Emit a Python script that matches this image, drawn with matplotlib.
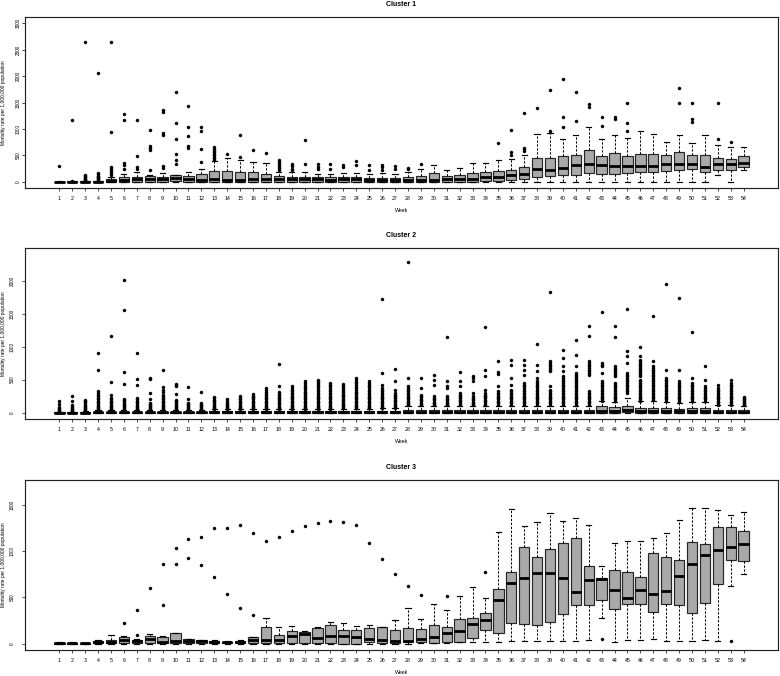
import matplotlib
matplotlib.use("Agg")
import matplotlib.pyplot as plt

plt.rcParams['font.family'] = ['Liberation Sans', 'DejaVu Sans']

weeks = list(range(1, 55))

# ---------------- Cluster 1 ----------------
c1_q1 = [0, 0, 0, 0, 0, 0, 0, 0, 0, 6, 0, 0, 0, 0, 0, 0, 0, 0, 0, 0, 0, 0, 0, 0, 0, 0, 0,
         0, 0, 0, 0, 0, 0, 19, 13, 26, 51, 82, 114, 133, 127, 158, 139, 139, 165, 190, 190,
         196, 221, 234, 190, 228, 215, 284]
c1_med = [0, 0, 0, 0, 13, 32, 51, 51, 51, 69, 51, 38, 45, 38, 38, 44, 51, 45, 44, 44, 42, 38,
          42, 42, 38, 28, 28, 26, 26, 38, 45, 57, 45, 82, 89, 120, 146, 247, 215, 259, 322, 329,
          316, 303, 291, 297, 303, 335, 335, 335, 284, 335, 329, 360]
c1_q3 = [3, 4, 6, 8, 45, 82, 95, 101, 95, 127, 108, 152, 196, 196, 190, 183, 145, 104, 88, 88,
         82, 82, 85, 85, 76, 65, 65, 89, 108, 165, 108, 127, 158, 184, 202, 221, 272, 442, 455,
         480, 499, 594, 493, 537, 493, 524, 518, 505, 569, 505, 512, 449, 430, 487]
c1_lo = [0, 0, 0, 0, 0, 0, 0, 0, 0, 0, 0, 0, 0, 0, 0, 0, 0, 0, 0, 0, 0, 0, 0, 0, 0, 0, 0,
         0, 0, 0, 0, 0, 0, 0, 0, 0, 0, 0, 0, 0, 0, 0, 0, 0, 0, 0, 0, 0, 0, 0, 0, 120, 0, 215]
c1_hi = [8, 10, 15, 20, 90, 139, 177, 127, 165, 133, 190, 234, 398, 455, 404, 379, 348, 190,
         184, 184, 152, 152, 171, 171, 146, 158, 146, 177, 240, 310, 221, 259, 360, 360, 417,
         436, 499, 903, 916, 802, 891, 1036, 802, 878, 834, 954, 897, 758, 878, 726, 884, 701,
         651, 651]
c1_out = [
    [297], [1175, 16], [2646, 120, 100, 85, 70, 55, 40, 28],
    [2058, 158, 140, 114, 95, 82, 65, 50, 35], [2646, 941, 270, 240, 205, 160, 125],
    [1282, 1175, 360, 322, 247], [1175, 480, 285, 246], [979, 682, 644, 607, 215],
    [1364, 1314, 916, 878, 303, 259], [1699, 1112, 815, 524, 417, 335],
    [1427, 1042, 865, 682, 644], [1036, 960, 613, 367],
    [651, 620, 590, 560, 530, 500, 470, 440, 410], [524], [878, 474], [594], [537],
    [411, 373, 335, 297, 259, 230], [335, 297, 247, 221], [790, 329], [329, 284, 234],
    [335, 247], [322, 284], [385, 322], [310, 221], [320, 280, 225], [291, 234],
    [266, 240], [335], [], [], [], [], [], [726], [979, 569, 499], [1295, 644, 613, 587],
    [1396], [1736, 966], [1938, 1231, 1042], [1699, 1143], [1471, 1421], [1231, 1055],
    [1231, 1194], [1484, 1105, 960], [], [], [], [1768, 1484], [1484, 1181, 1130], [],
    [1484, 802], [745], []]

# ---------------- Cluster 2 ----------------
c2_q1 = [0, 0, 0, 0, 0, 0, 0, 0, 0, 0, 0, 0, 0, 0, 0, 0, 0, 0, 0, 0, 0, 0, 0, 0, 0, 0, 0,
         0, 0, 0, 0, 0, 0, 0, 0, 0, 0, 0, 0, 0, 0, 0, 2, 2, 3, 2, 2, 2, 2, 2, 2, 0, 0, 0]
c2_med = [0, 0, 0, 3, 3, 3, 3, 3, 3, 3, 3, 3, 5, 5, 5, 5, 5, 5, 5, 5, 5, 5, 5, 5, 5, 8, 8,
          12, 12, 12, 12, 12, 12, 12, 12, 12, 12, 12, 12, 12, 12, 12, 30, 25, 35, 20, 22, 22,
          18, 20, 20, 12, 12, 10]
c2_q3 = [5, 5, 8, 16, 16, 16, 16, 16, 16, 16, 16, 16, 22, 22, 22, 22, 22, 22, 22, 22, 22, 22,
         22, 22, 22, 30, 30, 45, 45, 45, 45, 45, 45, 45, 45, 45, 45, 45, 45, 45, 45, 45, 95, 80,
         106, 68, 70, 70, 60, 65, 65, 45, 45, 40]
c2_lo = [0, 0, 0, 0, 0, 0, 0, 0, 0, 0, 0, 0, 0, 0, 0, 0, 0, 0, 0, 0, 0, 0, 0, 0, 0, 0, 0,
         0, 0, 0, 0, 0, 0, 0, 0, 0, 0, 0, 0, 0, 0, 0, 0, 0, 0, 0, 0, 0, 0, 0, 0, 0, 0, 0]
c2_hi = [12, 12, 20, 40, 40, 40, 40, 40, 40, 40, 40, 40, 55, 55, 55, 55, 55, 55, 55, 55, 55,
         55, 55, 55, 55, 70, 70, 105, 105, 105, 105, 105, 105, 105, 105, 105, 105, 105, 105,
         105, 105, 105, 170, 160, 222, 170, 181, 165, 150, 160, 160, 110, 110, 100]
c2_out = [
    [182, 136, 86, 70, 55, 40, 30, 22],
    [257, 177, 110, 90, 70, 55, 40, 30, 22],
    [197, 180, 160, 140, 120, 100, 85, 70, 55, 42, 32],
    [904, 646, 328, 298, 275, 250, 225, 200, 180, 160, 140, 120, 100, 85, 70, 55, 45],
    [1161, 464, 267, 222, 200, 180, 160, 140, 120, 100, 85, 70, 55, 45],
    [2010, 1550, 621, 434, 207, 190, 170, 150, 130, 110, 95, 80, 65, 50],
    [904, 515, 414, 222, 200, 180, 160, 140, 120, 100, 85, 70, 55, 45],
    [530, 510, 298, 212, 146, 130, 115, 100, 85, 70, 58, 46],
    [646, 389, 348, 318, 272, 250, 225, 200, 180, 160, 140, 120, 100, 85, 70, 58, 46],
    [434, 415, 399, 287, 197, 175, 155, 135, 115, 100, 85, 70, 58, 46],
    [389, 212, 146, 130, 115, 100, 85, 70, 58, 46],
    [313, 146, 130, 115, 100, 85, 70, 58, 46],
    [237, 215, 195, 175, 155, 135, 115, 100, 85, 72, 62],
    [212, 171, 150, 130, 115, 100, 85, 72, 62],
    [257, 222, 200, 180, 160, 140, 120, 100, 85, 72, 62],
    [282, 260, 240, 220, 200, 180, 160, 140, 120, 100, 85, 72, 62],
    [373, 338, 308, 285, 262, 240, 220, 200, 180, 160, 140, 120, 100, 85, 72, 62],
    [732, 399, 318, 287, 265, 245, 225, 205, 185, 165, 145, 125, 105, 88, 72, 62],
    [409, 373, 348, 325, 300, 280, 260, 240, 220, 200, 180, 160, 140, 120, 100, 85, 72, 62],
    [474, 445, 420, 395, 370, 345, 320, 300, 280, 260, 240, 220, 200, 180, 160, 140, 120,
     100, 85, 72, 62],
    [500, 475, 450, 420, 399, 375, 350, 325, 300, 280, 260, 240, 220, 200, 180, 160, 140,
     120, 100, 85, 72, 62],
    [449, 425, 400, 375, 350, 325, 300, 280, 260, 240, 220, 200, 180, 160, 140, 120, 100,
     85, 72, 62],
    [434, 410, 385, 360, 335, 310, 290, 270, 250, 230, 210, 190, 170, 150, 130, 110, 95, 80,
     68],
    [520, 495, 470, 445, 420, 395, 370, 345, 320, 300, 280, 260, 240, 220, 200, 180, 160,
     140, 120, 100, 85, 68],
    [474, 450, 425, 400, 375, 350, 325, 300, 280, 260, 240, 220, 200, 180, 160, 140, 120,
     100, 85, 68],
    [1722, 595, 424, 373, 350, 325, 300, 280, 260, 240, 220, 200, 180, 160, 140, 120, 100,
     85, 76],
    [656, 474, 338, 298, 275, 255, 235, 215, 195, 175, 155, 135, 115, 100, 85, 76],
    [2288, 525, 399, 374, 350, 325, 300, 280, 260, 240, 220, 200, 180, 160, 140, 125, 112],
    [525, 369, 273, 250, 230, 210, 190, 170, 150, 130, 115],
    [576, 500, 424, 248, 225, 205, 185, 165, 145, 125, 112],
    [1151, 475, 409, 374, 248, 225, 205, 185, 165, 145, 125, 112],
    [611, 475, 399, 298, 275, 255, 235, 215, 195, 175, 155, 135, 115],
    [561, 525, 475, 298, 248, 225, 205, 185, 165, 145, 125, 112],
    [1293, 652, 550, 338, 298, 275, 255, 235, 215, 195, 175, 155, 135, 115],
    [778, 616, 591, 399, 323, 300, 280, 260, 240, 220, 200, 180, 160, 140, 120],
    [793, 717, 525, 414, 348, 325, 300, 280, 260, 240, 220, 200, 180, 160, 140, 120],
    [793, 717, 641, 576, 450, 425, 400, 375, 350, 325, 300, 280, 260, 240, 220, 200, 180,
     160, 140, 120],
    [1045, 717, 626, 525, 475, 450, 425, 400, 375, 350, 325, 300, 280, 260, 240, 220, 200,
     180, 160, 140, 120],
    [1833, 778, 753, 728, 702, 677, 651, 626, 399, 348, 325, 300, 280, 260, 240, 220, 200,
     180, 160, 140, 120],
    [955, 828, 702, 626, 550, 525, 500, 475, 450, 425, 400, 375, 350, 325, 300, 280, 260,
     240, 220, 200, 180, 160, 140, 120],
    [1096, 879, 702, 601, 575, 550, 525, 500, 475, 450, 425, 400, 375, 350, 325, 300, 280,
     260, 240, 220, 200, 180, 160, 140, 120],
    [1308, 1157, 778, 753, 728, 702, 677, 651, 626, 601, 576, 323, 300, 280, 260, 240, 220,
     200, 180, 160, 140, 120],
    [1530, 753, 728, 702, 601, 475, 450, 425, 400, 375, 350, 325, 300, 280, 260, 240, 220,
     200, 180],
    [1308, 1146, 702, 677, 651, 626, 600, 575, 550, 450, 425, 400, 375, 350, 325, 300, 280,
     260, 240, 220, 200, 180],
    [1571, 929, 853, 753, 601, 575, 550, 525, 500, 475, 450, 425, 400, 375, 350, 325, 298],
    [995, 853, 803, 778, 753, 728, 702, 677, 651, 626, 601, 575, 550, 500, 475, 450, 425,
     400, 375, 350, 325, 300, 280, 260, 240, 220, 200, 180],
    [1460, 778, 702, 677, 651, 626, 601, 575, 550, 525, 500, 475, 450, 425, 400, 375, 350,
     325, 300, 280, 260, 240, 220, 197],
    [1954, 652, 525, 500, 475, 450, 425, 400, 375, 350, 325, 300, 280, 260, 240, 220, 200,
     180],
    [1737, 652, 475, 450, 425, 400, 375, 350, 325, 300, 280, 260, 240, 220, 200, 180, 160],
    [1217, 525, 450, 425, 400, 375, 350, 325, 300, 280, 260, 240, 220, 200, 180],
    [702, 500, 400, 375, 350, 325, 300, 280, 260, 240, 220, 200, 180],
    [414, 374, 350, 325, 300, 280, 260, 240, 220, 200, 180, 160, 140, 120],
    [500, 450, 425, 400, 375, 350, 325, 300, 280, 260, 240, 220, 200, 180, 160, 140, 120],
    [232, 215, 200, 185, 170, 155, 140, 125, 110]]

# ---------------- Cluster 3 ----------------
c3_q1 = [0, 0, 0, 3, 4, 7, 8, 7, 4, 4, 7, 7, 4, 4, 7, 7, 11, 7, 4, 7, 7, 11, 0, 0, 14, 7, 10,
         17, 17, 10, 14, 21, 64, 143, 111, 222, 208, 201, 233, 316, 413, 413, 474, 373, 434,
         434, 341, 427, 420, 327, 441, 643, 908, 894]
c3_med = [4, 4, 4, 18, 21, 36, 25, 47, 21, 28, 25, 25, 18, 14, 21, 36, 43, 39, 79, 100, 64, 82,
          86, 72, 54, 38, 27, 34, 53, 71, 118, 136, 215, 255, 467, 661, 711, 765, 768, 707, 560,
          693, 700, 578, 499, 578, 542, 571, 736, 865, 955, 1009, 1048, 1074]
c3_q3 = [11, 10, 9, 32, 43, 68, 40, 79, 75, 118, 50, 43, 32, 21, 32, 68, 176, 97, 140, 122,
         172, 204, 143, 147, 172, 178, 153, 172, 161, 204, 183, 269, 280, 334, 589, 779, 1049,
         934, 1023, 1084, 1146, 840, 711, 801, 779, 722, 977, 934, 908, 1102, 1074, 1257, 1257,
         1214]
c3_lo = [0, 0, 0, 0, 0, 0, 0, 0, 0, 0, 0, 0, 0, 0, 0, 0, 0, 0, 0, 0, 0, 0, 0, 0, 0, 0, 0,
         0, 3, 10, 10, 18, 18, 21, 21, 28, 25, 28, 32, 32, 32, 39, 273, 21, 36, 39, 46, 32, 32,
         32, 39, 32, 621, 750]
c3_hi = [18, 16, 12, 36, 93, 80, 55, 104, 80, 118, 55, 45, 35, 24, 35, 70, 280, 179, 194, 133,
         176, 233, 226, 194, 201, 182, 256, 382, 269, 427, 359, 513, 610, 495, 1210, 1450, 1271,
         1318, 1415, 1329, 1357, 1282, 844, 1084, 1110, 1110, 1146, 1199, 1332, 1462, 1462,
         1447, 1386, 1418]
c3_out = [
    [], [], [], [], [], [219], [366, 93], [607], [862, 423], [1030, 865], [1127, 930],
    [1153, 851], [1246, 718], [1246, 535], [1278, 391], [1196, 305], [1113], [1153], [1217],
    [1268], [1304], [1325], [1318], [1278], [1088], [916], [750], [619], [528], [], [513],
    [], [], [776], [], [], [], [], [], [], [], [], [50], [], [], [], [], [], [], [], [], [],
    [28], []]

panels = [
    ("Cluster 1", c1_q1, c1_med, c1_q3, c1_lo, c1_hi, c1_out, (-120, 3120),
     [0, 500, 1000, 1500, 2000, 2500, 3000]),
    ("Cluster 2", c2_q1, c2_med, c2_q3, c2_lo, c2_hi, c2_out, (-96, 2496),
     [0, 500, 1000, 1500, 2000]),
    ("Cluster 3", c3_q1, c3_med, c3_q3, c3_lo, c3_hi, c3_out, (-68, 1768),
     [0, 500, 1000, 1500]),
]

W, H = 780, 676
fig = plt.figure(figsize=(W / 100, H / 100), dpi=100)
frames = [(17, 188), (248, 419), (480, 650)]
left_px, right_px = 25, 778
ytick_pad = [1.0, 5.5, 5.5]

for i, (title, q1, med, q3, lo, hi, out, ylim, yticks) in enumerate(panels):
    top, bot = frames[i]
    ax = fig.add_axes([left_px / W, 1 - bot / H, (right_px - left_px) / W, (bot - top) / H])
    stats = []
    for k in range(len(weeks)):
        stats.append(dict(q1=q1[k], med=med[k], q3=q3[k], whislo=lo[k], whishi=hi[k],
                          fliers=out[k]))
    ax.bxp(stats, positions=weeks, widths=0.8, capwidths=0.4, patch_artist=True,
           showfliers=True,
           boxprops=dict(facecolor='#a9a9a9', edgecolor='#262626', linewidth=0.85),
           whiskerprops=dict(color='black', linewidth=0.75, linestyle=(0, (2.2, 1.6))),
           capprops=dict(color='black', linewidth=0.85),
           medianprops=dict(color='black', linewidth=2.0, solid_capstyle='butt'),
           flierprops=dict(marker='o', markersize=2.2, markerfacecolor='black',
                           markeredgecolor='black', markeredgewidth=0.3, linestyle='none'))
    ax.set_xlim(-1.66, 56.66)
    ax.set_ylim(*ylim)
    ax.set_xticks(weeks)
    ax.set_xticklabels([str(w) for w in weeks], fontsize=3.8)
    ax.set_yticks(yticks)
    ax.set_yticklabels([str(v) for v in yticks], fontsize=3.3, rotation=90, va='center')
    ax.tick_params(axis='x', length=2, width=0.5, pad=4.0)
    ax.tick_params(axis='y', length=2, width=0.5, pad=ytick_pad[i])
    for s in ax.spines.values():
        s.set_linewidth(0.85)
        s.set_color('#222222')
    h = bot - top
    ax.text(0.5, 1 + 12.5 / h, title, transform=ax.transAxes, ha='center', va='center',
            fontsize=5.0, fontweight='bold')
    ax.text(0.5, -22.5 / h, "Week", transform=ax.transAxes, ha='center', va='center',
            fontsize=3.8)
    ax.text((3.5 - left_px) / (right_px - left_px), 0.5,
            "Mortality rate per 1,000,000 population", transform=ax.transAxes,
            ha='center', va='center', rotation=90, fontsize=3.5)

fig.savefig("out.png", dpi=100)
